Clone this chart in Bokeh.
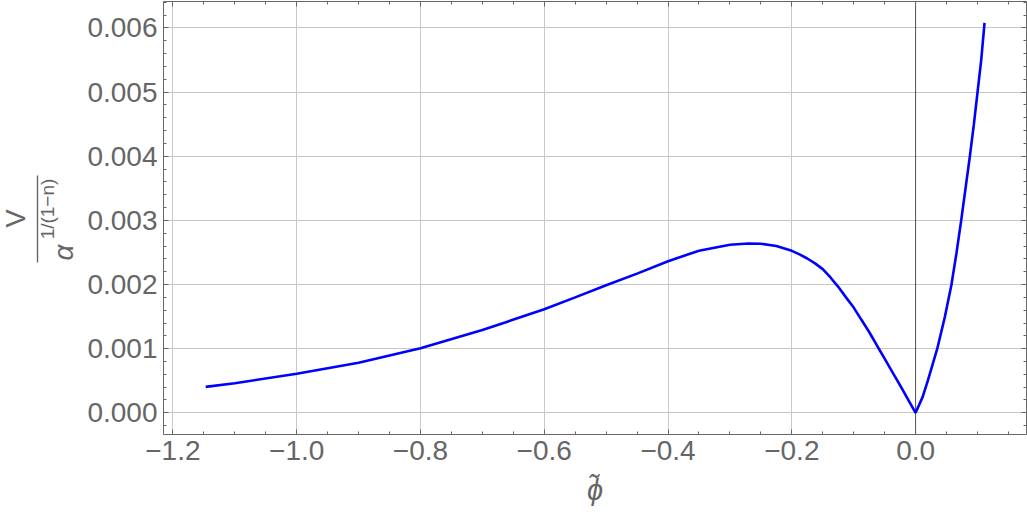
import numpy as np
from bokeh.plotting import figure
from bokeh.layouts import row
from bokeh.models import (Range1d, LinearAxis, SingleIntervalTicker, PrintfTickFormatter,
                          CustomJSTickFormatter, Span, Label, BoxAnnotation)
from bokeh.embed import file_html
from bokeh.resources import INLINE

# ---- data ----
phi_left = [-1.147, -1.1, -1.0, -0.9, -0.8, -0.7, -0.6, -0.55, -0.5, -0.45, -0.4, -0.35,
            -0.3, -0.27, -0.25, -0.225, -0.2, -0.1875, -0.175, -0.1625, -0.15, -0.1375,
            -0.125, -0.1125, -0.1, -0.0875, -0.075, -0.0625, -0.05, -0.0375, -0.025,
            -0.0125, 0.0]
v_left = [0.000405, 0.000462, 0.000608, 0.00078, 0.001007, 0.00129, 0.001615, 0.0018,
          0.00199, 0.00217, 0.002364, 0.002528, 0.00262, 0.002641, 0.002636, 0.0026,
          0.002526, 0.00247, 0.002406, 0.00233, 0.00224, 0.00211, 0.001964, 0.0018,
          0.001641, 0.00145, 0.00126, 0.00105, 0.000844, 0.000635, 0.000427, 0.000214, 0.0]
phi_right = [0.0113, 0.0199, 0.035, 0.0474, 0.058, 0.0662, 0.0737, 0.0807, 0.0877,
             0.0942, 0.1001, 0.106, 0.1114]
v_right = [0.000245, 0.000505, 0.001, 0.0015, 0.002, 0.0025, 0.003, 0.0035, 0.004,
           0.0045, 0.005, 0.0055, 0.00608]

phi = phi_left + phi_right
v = v_left + v_right

x_major = 0.2
x_minor_n = 4
y_major = 0.001
y_minor_n = 5

W, H = 1027, 515
LW = 84                   # width of the strip that holds the y-axis title
FL, FT, FB = 162, 1, 434  # frame left / top / bottom in page px
GRAY = "#666666"
FONT = "Liberation Sans"

# ---------------- main plot ----------------
fig = figure(width=W - LW, height=H, output_backend="svg", toolbar_location=None,
             x_range=Range1d(-1.2152, 0.1792), y_range=Range1d(-0.000338, 0.006413),
             x_axis_location=None, y_axis_location=None,
             min_border_left=FL - LW, min_border_right=1, min_border_top=FT,
             min_border_bottom=H - FB)
fig.outline_line_color = None
fig.background_fill_color = "white"
fig.border_fill_color = "white"

xt = SingleIntervalTicker(interval=x_major, num_minor_ticks=x_minor_n)
yt = SingleIntervalTicker(interval=y_major, num_minor_ticks=y_minor_n)

xfmt = CustomJSTickFormatter(code="""
if (Math.abs(tick) < 1e-9) { return '0.0'; }
return tick.toFixed(1).replace('-', '\\u2212');
""")
blank = CustomJSTickFormatter(code="return '';")


def style_axis(ax, labels=True):
    ax.axis_line_color = GRAY
    ax.axis_line_width = 1
    ax.major_tick_line_color = GRAY
    ax.minor_tick_line_color = GRAY
    ax.major_tick_in = 5
    ax.major_tick_out = 0
    ax.minor_tick_in = 3
    ax.minor_tick_out = 0
    if labels:
        ax.major_label_text_font = FONT
        ax.major_label_text_font_size = "28px"
        ax.major_label_text_color = GRAY
        ax.major_label_standoff = 6
    else:
        ax.formatter = blank
        ax.major_label_text_font_size = "1px"
        ax.major_label_standoff = 0


bottom = LinearAxis(ticker=xt, formatter=xfmt)
style_axis(bottom)
bottom.axis_label = "\u03d5\u0303"
bottom.axis_label_text_font = FONT
bottom.axis_label_text_font_size = "29px"
bottom.axis_label_text_font_style = "italic"
bottom.axis_label_text_color = GRAY
bottom.axis_label_standoff = 11
fig.add_layout(bottom, "below")
left = LinearAxis(ticker=yt, formatter=PrintfTickFormatter(format="%.3f"))
style_axis(left)
fig.add_layout(left, "left")
top = LinearAxis(ticker=xt)
style_axis(top, labels=False)
fig.add_layout(top, "above")
right = LinearAxis(ticker=yt)
style_axis(right, labels=False)
fig.add_layout(right, "right")

fig.xgrid.ticker = xt
fig.ygrid.ticker = yt
fig.grid.grid_line_color = "#c8c8c8"
fig.grid.grid_line_width = 1

fig.add_layout(Span(location=0, dimension="height", line_color="#555555", line_width=1,
                    level="underlay"))

fig.line(phi, v, line_color="#0000ff", line_width=2.6)

# ---------------- y-axis title strip: V / alpha^(1/(1-n)) ----------------
# its frame is aligned with the main frame (page y FT..FB), so the y range is set
# such that data y = H - page y
lab = figure(width=LW, height=H, output_backend="svg", toolbar_location=None,
             x_range=Range1d(0, LW), y_range=Range1d(H - FB, H - FT),
             x_axis_location=None, y_axis_location=None, min_border=0,
             min_border_top=FT, min_border_bottom=H - FB)
lab.outline_line_color = None
lab.grid.visible = False
lab.background_fill_color = "white"
lab.border_fill_color = "white"

ang = np.pi / 2
lab.add_layout(Label(x=15.5, y=H - 218, text="V", angle=ang, text_font=FONT,
                     text_font_size="27px", text_color=GRAY,
                     text_align="center", text_baseline="middle"))
lab.add_layout(BoxAnnotation(left=36.3, right=37.7, bottom=H - 262, top=H - 175,
                             fill_color=GRAY, fill_alpha=1, line_color=None))
lab.add_layout(Label(x=63, y=H - 252, text="\u03b1", angle=ang, text_font=FONT,
                     text_font_size="28px", text_font_style="italic", text_color=GRAY,
                     text_align="center", text_baseline="middle"))
lab.add_layout(Label(x=47, y=H - 208.5, text="1/(1\u2212n)", angle=ang, text_font=FONT,
                     text_font_size="19px", text_color=GRAY,
                     text_align="center", text_baseline="middle"))

p = row(lab, fig, spacing=0)

open("out.html", "w").write(file_html(p, INLINE))
